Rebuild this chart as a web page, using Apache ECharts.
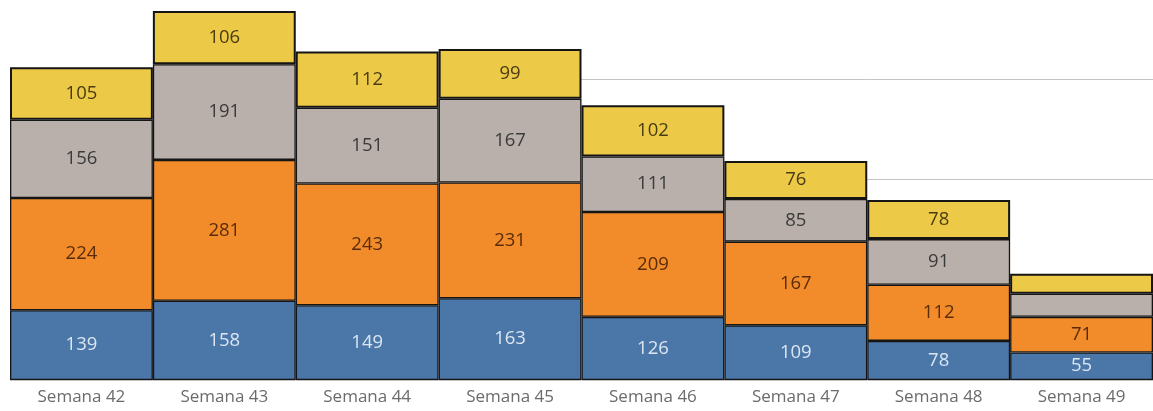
<!DOCTYPE html>
<html lang="es">
<head>
    <meta charset="UTF-8">
    <title>Semanas</title>
    <script src="https://cdn.jsdelivr.net/npm/echarts@6/dist/echarts.min.js"></script>
    <style>
        html, body { margin: 0; padding: 0; background: #fff; }
    </style>
</head>
<body>
    <div id="main" style="width: 1153px;height:411px;"></div>
    <script type="text/javascript">
        // datos
        var semanas = ['Semana 42', 'Semana 43', 'Semana 44', 'Semana 45', 'Semana 46', 'Semana 47', 'Semana 48', 'Semana 49'];
        var azul = [139, 158, 149, 163, 126, 109, 78, 55];
        var naranja = [224, 281, 243, 231, 209, 167, 112, 71];
        var gris = [156, 191, 151, 167, 111, 85, 91, 46];
        var amarillo = [105, 106, 112, 99, 102, 76, 78, 40];
        // segmentos sin etiqueta (demasiado pequeños)
        var ocultos = { gris: [7], amarillo: [7] };

        var myChart = echarts.init(document.getElementById('main'));

        function serie(name, values, color, textColor, hidden, bw) {
            return {
                name: name,
                type: 'bar',
                stack: 'total',
                barCategoryGap: 0,
                data: values.map(function (v, i) {
                    if (hidden && hidden.indexOf(i) >= 0) {
                        return { value: v, label: { show: false } };
                    }
                    return v;
                }),
                itemStyle: {
                    color: color,
                    borderColor: '#151515',
                    borderWidth: bw || 1.3
                },
                label: {
                    show: true,
                    position: 'inside',
                    color: textColor,
                    fontFamily: 'Open Sans',
                    fontSize: 18.5
                }
            };
        }

        var option = {
            animation: false,
            grid: { left: 10, right: 0, top: 9, bottom: 31 },
            xAxis: {
                type: 'category',
                data: semanas,
                axisLine: { show: false },
                axisTick: { show: false },
                axisLabel: {
                    color: '#6b6b6b',
                    fontFamily: 'Open Sans',
                    fontSize: 17,
                    margin: 9
                }
            },
            yAxis: {
                type: 'value',
                min: 0,
                max: 740,
                interval: 200,
                axisLabel: { show: false },
                axisLine: { show: false },
                axisTick: { show: false },
                splitLine: { showMaxLine: false, lineStyle: { color: '#c4c4c4', width: 1 } }
            },
            series: [
                serie('Azul', azul, '#4a76a8', '#dbe6f2'),
                serie('Naranja', naranja, '#f28c2b', '#5a2c08'),
                serie('Gris', gris, '#b9b0ab', '#3a3a3a', ocultos.gris),
                serie('Amarillo', amarillo, '#ecc947', '#4a3c10', ocultos.amarillo, 2)
            ]
        };

        myChart.setOption(option);
    </script>
</body>
</html>
